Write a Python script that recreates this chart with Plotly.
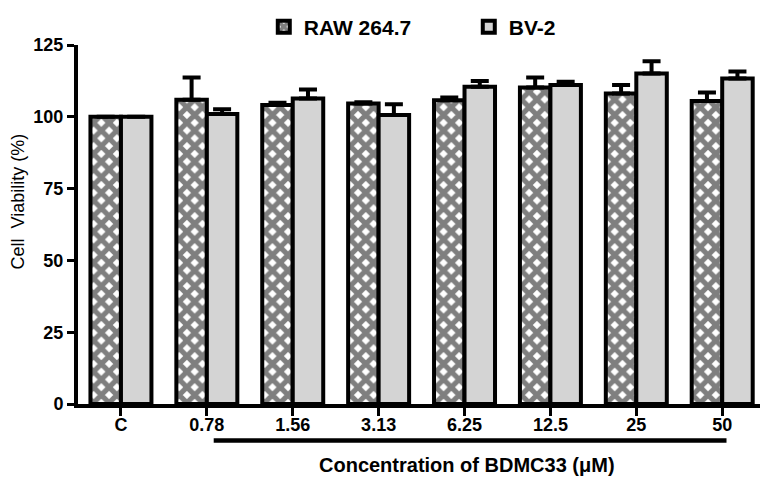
import plotly.graph_objects as go

categories = ["C", "0.78", "1.56", "3.13", "6.25", "12.5", "25", "50"]
raw_mean = [100, 105.9, 104.1, 104.6, 105.8, 110.2, 108.1, 105.5]
raw_err = [0, 7.8, 0.8, 0.5, 0.9, 3.5, 3.0, 3.0]
bv_mean = [100, 101.0, 106.4, 100.6, 110.5, 111.1, 115.1, 113.3]
bv_err = [0, 1.6, 3.1, 3.8, 2.0, 1.1, 4.2, 2.5]
yticks = [0, 25, 50, 75, 100, 125]

FONT = "Arial, Liberation Sans, sans-serif"
xidx = list(range(len(categories)))

fig = go.Figure()
fig.add_trace(go.Bar(
    x=xidx, y=raw_mean, name="RAW 264.7",
    marker=dict(color="white", line=dict(color="black", width=4),
                pattern=dict(shape="x", fgcolor="black", bgcolor="white",
                             size=11, solidity=0.72, fillmode="overlay")),
    error_y=dict(type="data", array=raw_err, arrayminus=[0]*len(raw_err),
                 symmetric=False, color="black", thickness=4, width=9),
))
fig.add_trace(go.Bar(
    x=xidx, y=bv_mean, name="BV-2",
    marker=dict(color="#d4d4d4", line=dict(color="black", width=4)),
    error_y=dict(type="data", array=bv_err, arrayminus=[0]*len(bv_err),
                 symmetric=False, color="black", thickness=4, width=9),
))

fig.update_layout(
    width=760, height=478,
    margin=dict(l=78, r=0, t=45, b=74, autoexpand=False),
    paper_bgcolor="white", plot_bgcolor="white",
    barmode="group", bargap=0.29, bargroupgap=0,
    showlegend=True,
    legend=dict(orientation="h", x=0.573, y=1.05, xanchor="center", yanchor="middle",
                font=dict(family=FONT, size=21, color="black", weight="bold"),
                entrywidth=160, traceorder="normal"),
    font=dict(family=FONT, color="black"),
)
fig.update_xaxes(
    range=[-0.5, 7.44], tickmode="array", tickvals=xidx, ticktext=categories,
    showline=True, linecolor="black", linewidth=4,
    ticks="outside", ticklen=8, tickwidth=3, tickcolor="black",
    ticklabelstandoff=-7,
    tickfont=dict(family=FONT, size=18, color="black", weight="bold"),
    showgrid=False, zeroline=False, fixedrange=True,
)
fig.update_yaxes(
    range=[0, 125], tickmode="array", tickvals=yticks,
    showline=True, linecolor="black", linewidth=4,
    ticks="outside", ticklen=7, tickwidth=3, tickcolor="black",
    tickfont=dict(family=FONT, size=18, color="black", weight="bold"),
    showgrid=False, zeroline=False, fixedrange=True,
)

# bracket line under the treated concentrations
fig.add_shape(type="line", xref="x", yref="paper", x0=1.08, x1=7.05, y0=-0.1017, y1=-0.1017,
              line=dict(color="black", width=4.5))

fig.add_annotation(text="Concentration of BDMC33 (μM)", xref="x", yref="paper",
                   x=4.03, y=-0.17, showarrow=False, xanchor="center", yanchor="middle",
                   font=dict(family=FONT, size=20, color="black", weight="bold"))
fig.add_annotation(text="Cell  Viability (%)", xref="paper", yref="paper",
                   x=(18 - 78) / 682, y=0.564, showarrow=False, textangle=-90,
                   xanchor="center", yanchor="middle",
                   font=dict(family=FONT, size=18, color="black"))

fig.write_html("out.html", config={"displayModeBar": False},
               post_script="document.body.style.margin='0';document.body.style.overflow='hidden';")
